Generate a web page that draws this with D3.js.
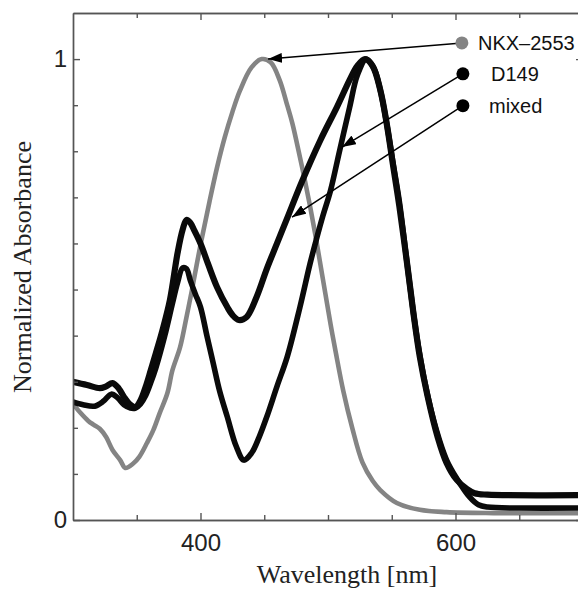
<!DOCTYPE html>
<html>
<head>
<meta charset="utf-8">
<script src="https://cdn.jsdelivr.net/npm/d3@7/dist/d3.min.js"></script>
<style>
  html, body { margin: 0; padding: 0; background: #fff; }
  svg { display: block; }
</style>
</head>
<body>
<div id="chart"></div>
<script>
// ---------------- data ----------------
const xTickValues = [400, 600];
const xMinorTicks = [350, 450, 500, 550, 650];
const yTickValues = [0, 1];
const yMinorTicks = [0.1, 0.2, 0.3, 0.4, 0.5, 0.6, 0.7, 0.8, 0.9];
const seriesNames = ["NKX\u20132553", "D149", "mixed"];

const nkxWl  = [300, 306, 312, 316, 321, 326, 331, 337, 341, 347, 352, 358, 363, 368, 374, 378, 384, 389, 393, 400, 407, 413, 419, 425, 431, 440, 448, 455, 462, 468, 472, 478, 482, 486, 490, 494, 498, 502, 506, 512, 519, 527, 535, 541, 554, 572, 593, 630, 700];
const nkxAbs = [0.252, 0.232, 0.215, 0.207, 0.198, 0.18, 0.152, 0.13, 0.113, 0.122, 0.137, 0.167, 0.195, 0.232, 0.275, 0.325, 0.375, 0.44, 0.495, 0.597, 0.69, 0.765, 0.83, 0.885, 0.932, 0.982, 1.0, 0.993, 0.955, 0.90, 0.861, 0.787, 0.735, 0.68, 0.62, 0.555, 0.49, 0.425, 0.365, 0.28, 0.20, 0.125, 0.085, 0.065, 0.037, 0.022, 0.017, 0.015, 0.015];

const d149Wl  = [300, 308, 317, 324, 330, 335, 340, 345, 349, 353, 357, 361, 365, 372, 378, 382, 386, 389, 392, 396, 400, 405, 410, 415, 421, 428, 434, 440, 446, 452, 460, 468, 478, 486, 491, 496, 502, 509, 517, 523, 530, 536, 541, 546, 551, 556, 561, 566, 571, 577, 585, 593, 601, 611, 618, 625, 650, 700];
const d149Abs = [0.256, 0.25, 0.247, 0.258, 0.273, 0.265, 0.25, 0.243, 0.243, 0.252, 0.27, 0.298, 0.33, 0.40, 0.47, 0.515, 0.547, 0.545, 0.52, 0.49, 0.462, 0.40, 0.34, 0.28, 0.224, 0.16, 0.13, 0.145, 0.18, 0.224, 0.29, 0.354, 0.462, 0.557, 0.61, 0.66, 0.715, 0.80, 0.896, 0.965, 1.0, 0.98, 0.933, 0.861, 0.775, 0.69, 0.58, 0.47, 0.375, 0.285, 0.195, 0.13, 0.09, 0.05, 0.033, 0.028, 0.026, 0.026];

const mixedWl  = [300, 311, 321, 326, 331, 336, 340, 345, 349, 353, 357, 361, 365, 370, 376, 382, 386, 389, 392, 395, 400, 406, 413, 421, 425, 430, 436, 444, 452, 460, 468, 480, 494, 507, 517, 523, 529, 535, 541, 546, 551, 556, 562, 567, 572, 578, 586, 593, 601, 609, 615, 625, 700];
const mixedAbs = [0.300, 0.293, 0.286, 0.29, 0.297, 0.285, 0.267, 0.25, 0.245, 0.26, 0.289, 0.325, 0.362, 0.41, 0.477, 0.579, 0.63, 0.651, 0.645, 0.629, 0.60, 0.555, 0.505, 0.462, 0.445, 0.434, 0.44, 0.484, 0.545, 0.60, 0.655, 0.737, 0.824, 0.896, 0.955, 0.985, 1.0, 0.985, 0.933, 0.861, 0.77, 0.68, 0.557, 0.449, 0.354, 0.27, 0.18, 0.124, 0.087, 0.067, 0.058, 0.055, 0.054];

// legend dots and arrow tips, in data units (wavelength, absorbance)
const legendDotWl = [605, 605.8, 605.8];
const legendDotAbs = [1.035, 0.968, 0.899];
const arrowTipWl = [453, 511, 471.8];
const arrowTipAbs = [1.0, 0.809, 0.657];

// ---------------- drawing ----------------
const W = 578, H = 591;
const svg = d3.select("#chart").append("svg").attr("width", W).attr("height", H);

const x = d3.scaleLinear().domain([300, 700]).range([73, 583]);
const y = d3.scaleLinear().domain([0, 1.1]).range([520, 13]);

const frameColor = "#555";
const sansFont = "'Liberation Sans', Arial, sans-serif";
const serifFont = "'Liberation Serif', 'Times New Roman', serif";

const defs = svg.append("defs");
defs.append("clipPath").attr("id", "plotclip")
  .append("rect").attr("x", x(300)).attr("y", y(1.1))
  .attr("width", x(700) - x(300)).attr("height", y(0) - y(1.1));

// curves
const line = d3.line()
  .x(d => x(d[0])).y(d => y(d[1]))
  .curve(d3.curveCatmullRom.alpha(0.5));

const plot = svg.append("g").attr("clip-path", "url(#plotclip)");
const series = [
  { wl: nkxWl, abs: nkxAbs, color: "#848484", width: 4.6 },
  { wl: d149Wl, abs: d149Abs, color: "#0a0a0a", width: 5.6 },
  { wl: mixedWl, abs: mixedAbs, color: "#0a0a0a", width: 6.2 }
];
series.forEach(s => {
  plot.append("path")
    .datum(s.wl.map((w, i) => [w, s.abs[i]]))
    .attr("d", line)
    .attr("fill", "none")
    .attr("stroke", s.color)
    .attr("stroke-width", s.width)
    .attr("stroke-linejoin", "round")
    .attr("stroke-linecap", "round");
});

// axes (boxed, inward ticks)
const axes = svg.append("g");
const axBottom = d3.axisBottom(x).tickValues(xTickValues).tickSizeInner(-7).tickSizeOuter(0).tickPadding(14).tickFormat(d3.format("d"));
const axBottomMinor = d3.axisBottom(x).tickValues(xMinorTicks).tickSizeInner(-5).tickSizeOuter(0).tickFormat("");
const axTop = d3.axisTop(x).tickValues(xTickValues).tickSizeInner(-7).tickSizeOuter(0).tickFormat("");
const axTopMinor = d3.axisTop(x).tickValues(xMinorTicks).tickSizeInner(-5).tickSizeOuter(0).tickFormat("");
const axLeft = d3.axisLeft(y).tickValues(yTickValues).tickSizeInner(-7).tickSizeOuter(0).tickPadding(6).tickFormat(d3.format("d"));
const axLeftMinor = d3.axisLeft(y).tickValues(yMinorTicks).tickSizeInner(-5).tickSizeOuter(0).tickFormat("");
const axRight = d3.axisRight(y).tickValues(yTickValues).tickSizeInner(-7).tickSizeOuter(0).tickFormat("");
const axRightMinor = d3.axisRight(y).tickValues(yMinorTicks).tickSizeInner(-5).tickSizeOuter(0).tickFormat("");

function styleAxis(g) {
  g.selectAll(".domain").attr("stroke", frameColor).attr("stroke-width", 1.4);
  g.selectAll(".tick line").attr("stroke", frameColor).attr("stroke-width", 1.4);
  g.selectAll(".tick text").attr("fill", "#222").attr("font-family", sansFont).attr("font-size", 24);
}
axes.append("g").attr("transform", `translate(0,${y(0)})`).call(axBottom).call(styleAxis);
axes.append("g").attr("transform", `translate(0,${y(0)})`).call(axBottomMinor).call(styleAxis);
axes.append("g").attr("transform", `translate(0,${y(1.1)})`).call(axTop).call(styleAxis);
axes.append("g").attr("transform", `translate(0,${y(1.1)})`).call(axTopMinor).call(styleAxis);
axes.append("g").attr("transform", `translate(${x(300)},0)`).call(axLeft).call(styleAxis);
axes.append("g").attr("transform", `translate(${x(300)},0)`).call(axLeftMinor).call(styleAxis);
axes.append("g").attr("transform", `translate(${x(700)},0)`).call(axRight).call(styleAxis);
axes.append("g").attr("transform", `translate(${x(700)},0)`).call(axRightMinor).call(styleAxis);

// axis titles
svg.append("text")
  .attr("x", 347).attr("y", 583)
  .attr("text-anchor", "middle")
  .attr("font-family", serifFont).attr("font-size", 26).attr("fill", "#222")
  .text("Wavelength [nm]");
svg.append("text")
  .attr("transform", "translate(31,267) rotate(-90)")
  .attr("text-anchor", "middle")
  .attr("font-family", serifFont).attr("font-size", 26).attr("fill", "#222")
  .text("Normalized Absorbance");

// legend with arrows
defs.append("marker").attr("id", "arrowhead")
  .attr("viewBox", "0 0 14 10").attr("refX", 14).attr("refY", 5)
  .attr("markerWidth", 14).attr("markerHeight", 10)
  .attr("markerUnits", "userSpaceOnUse").attr("orient", "auto")
  .append("path").attr("d", "M0,0 L14,5 L0,10 Z").attr("fill", "#000");

const legendColors = ["#848484", "#000", "#000"];
const legendTextX = [478, 491, 489];
const leg = svg.append("g");
seriesNames.forEach((name, i) => {
  const dx = x(legendDotWl[i]), dy = y(legendDotAbs[i]);
  leg.append("line")
    .attr("x1", dx).attr("y1", dy)
    .attr("x2", x(arrowTipWl[i])).attr("y2", y(arrowTipAbs[i]))
    .attr("stroke", "#000").attr("stroke-width", 1.5)
    .attr("marker-end", "url(#arrowhead)");
  leg.append("circle").attr("cx", dx).attr("cy", dy).attr("r", 6.5).attr("fill", legendColors[i]);
  leg.append("text")
    .attr("x", legendTextX[i]).attr("y", dy + 7.5)
    .attr("font-family", sansFont).attr("font-size", 20).attr("fill", "#111")
    .text(name);
});
</script>
</body>
</html>
